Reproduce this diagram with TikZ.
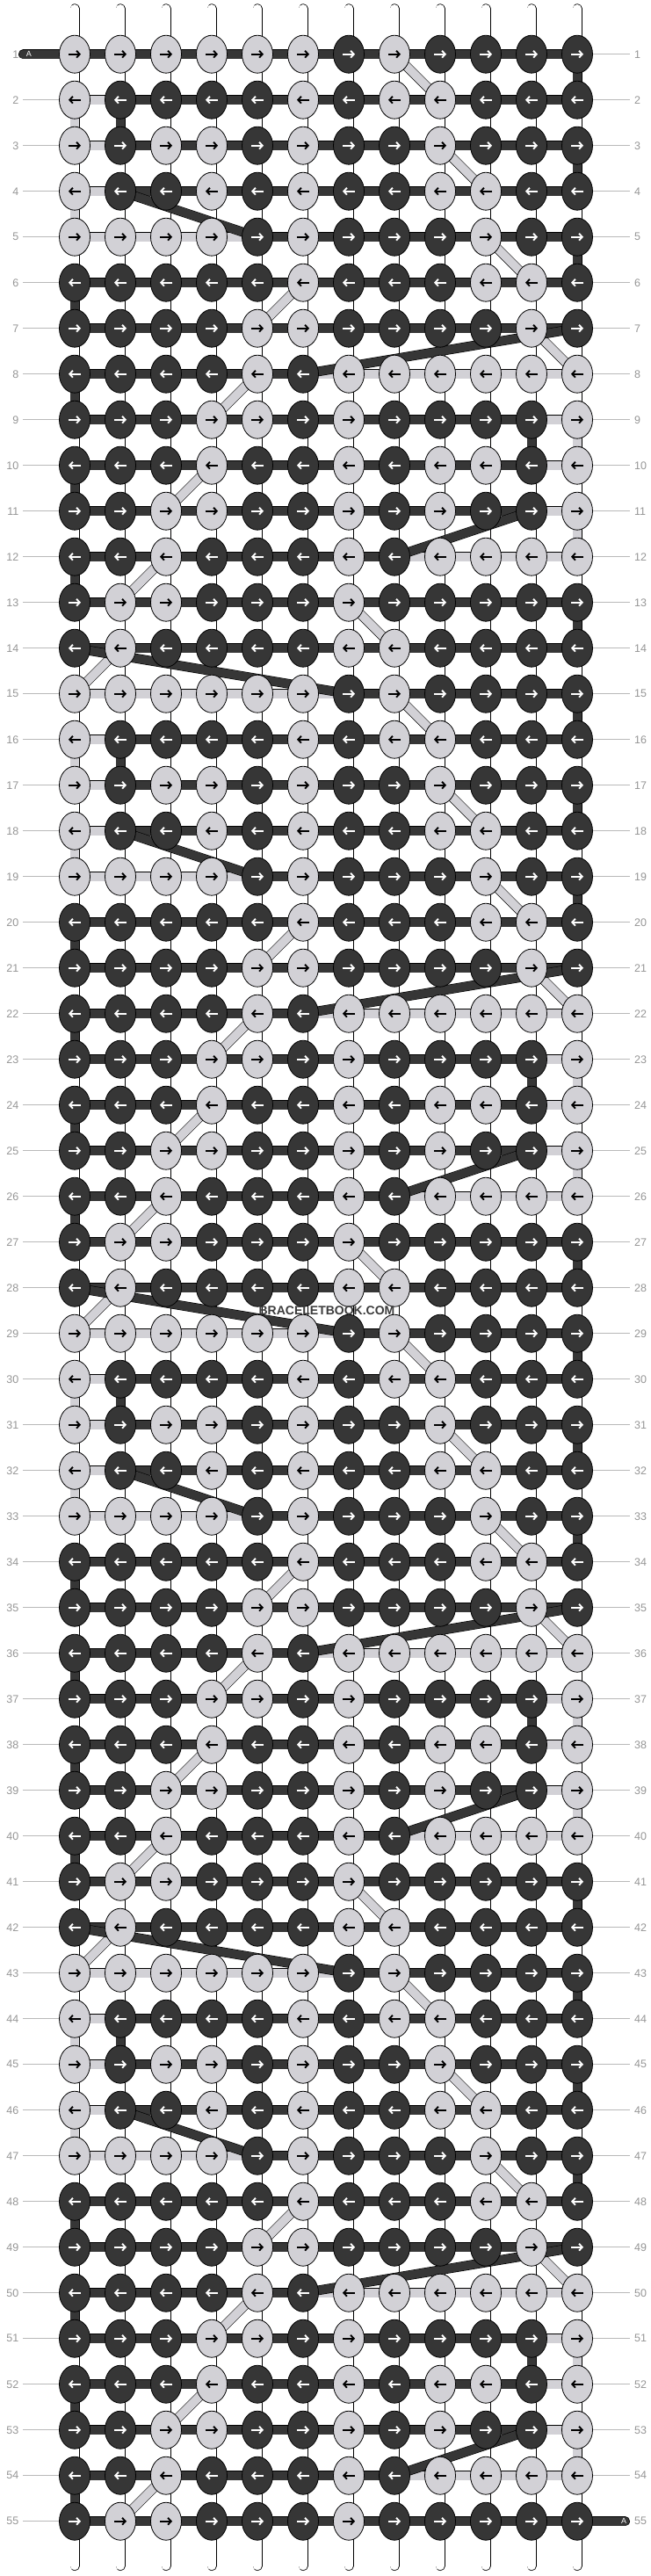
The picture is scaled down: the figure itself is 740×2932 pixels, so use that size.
\documentclass[tikz,border=0pt]{standalone}
\usepackage{fontspec}
\setmainfont{Liberation Sans}
\usetikzlibrary{arrows.meta,shapes.geometric}
\definecolor{dk}{RGB}{54,54,54}
\definecolor{lt}{RGB}{210,209,214}
\definecolor{lblc}{RGB}{150,150,150}
\definecolor{lblline}{RGB}{185,185,185}
\definecolor{wm}{RGB}{60,60,60}
\pgfdeclarelayer{paperlayer}
\pgfdeclarelayer{tubelayer}
\pgfdeclarelayer{threadlayer}
\pgfsetlayers{paperlayer,tubelayer,threadlayer,main}
% knot colours: 1 = dark, 0 = light ; 14 repeating rows x 12 columns
\def\K{{0,0,0,0,0,0,1,0,1,1,1,1,
0,1,1,1,1,0,1,0,0,1,1,1,
0,1,0,0,1,0,1,1,0,1,1,1,
0,1,1,0,1,0,1,1,0,0,1,1,
0,0,0,0,1,0,1,1,1,0,1,1,
1,1,1,1,1,0,1,1,1,0,0,1,
1,1,1,1,0,0,1,1,1,1,0,1,
1,1,1,1,0,1,0,0,0,0,0,0,
1,1,1,0,0,1,0,1,1,1,1,0,
1,1,1,0,1,1,0,1,0,0,1,0,
1,1,0,0,1,1,0,1,0,1,1,0,
1,1,0,1,1,1,0,1,0,0,0,0,
1,0,0,1,1,1,0,1,1,1,1,1,
1,0,1,1,1,1,0,0,1,1,1,1}}
% horizontal bar colours: 1 = light, 0 = dark ; 14 rows x 11 bars
\def\B{{1,1,1,1,1,1,0,0,0,0,0,
1,0,0,0,0,0,0,0,0,0,0,
1,0,0,0,0,0,0,0,0,0,0,
1,0,0,0,0,0,0,0,0,0,0,
1,1,1,1,0,0,0,0,0,0,0,
0,0,0,0,0,0,0,0,0,0,0,
0,0,0,0,0,0,0,0,0,0,0,
0,0,0,0,0,1,1,1,1,1,1,
0,0,0,0,0,0,0,0,0,0,1,
0,0,0,0,0,0,0,0,0,0,1,
0,0,0,0,0,0,0,0,0,0,1,
0,0,0,0,0,0,0,1,1,1,1,
0,0,0,0,0,0,0,0,0,0,0,
0,0,0,0,0,0,0,0,0,0,0}}
\begin{document}
\begin{tikzpicture}[x=1pt,y=-1pt,
  knot/.style={ellipse,draw=black,line width=0.8pt,minimum width=35pt,minimum height=43pt,inner sep=0pt},
  arr/.style={line width=1.9pt,-{Straight Barb[length=3.6pt,width=7.8pt]}},
  tube/.style={draw=black,line width=0.7pt,double=white,double distance=9.6pt,line cap=round},
  thr/.style={draw=black,line width=0.6pt,double distance=9.6pt},
  rowlbl/.style={text=lblc,font=\fontsize{12.5}{14}\selectfont,inner sep=0pt},
  lblln/.style={draw=lblline,line width=1pt},
  tab/.style={draw=black,line width=0.6pt,double=dk,double distance=9.8pt,line cap=round},
  tabtxt/.style={text=white,font=\fontsize{9}{10}\selectfont,inner sep=0pt},
  wmark/.style={text=wm,font=\bfseries\fontsize{14}{16}\selectfont,inner sep=0pt}
]
\useasboundingbox (0,0) rectangle (740,2932);
\begin{pgfonlayer}{paperlayer}
\fill[white] (0,0) rectangle (740,2932);
\end{pgfonlayer}
% ---------------- knots ----------------
\foreach \rr in {1,...,55}{
  \pgfmathtruncatemacro\pv{mod(\rr-1,14)}
  \pgfmathsetmacro\yv{61.7+52*(\rr-1)}
  \pgfmathtruncatemacro\oddv{mod(\rr,2)}
  \foreach \cc in {1,...,12}{
    \pgfmathsetmacro\xv{85+52*(\cc-1)}
    \pgfmathtruncatemacro\kd{\K[\pv*12+\cc-1]}
    \ifnum\kd=1 \def\fc{dk}\def\ac{white}\else \def\fc{lt}\def\ac{black}\fi
    \node[knot,fill=\fc] (k-\rr-\cc) at (\xv,\yv) {};
    \ifnum\oddv=1
      \draw[arr,draw=\ac] (\xv-7,\yv) -- (\xv+7,\yv);
    \else
      \draw[arr,draw=\ac] (\xv+7,\yv) -- (\xv-7,\yv);
    \fi
  }
  \node[rowlbl,anchor=east] (ll-\rr) at (21.5,\yv) {\rr};
  \node[rowlbl,anchor=west] (rl-\rr) at (722,\yv) {\rr};
  \ifnum\rr>1 \draw[lblln] (26,\yv) -- (k-\rr-1.west); \fi
  \ifnum\rr<55 \draw[lblln] (k-\rr-12.east) -- (717,\yv); \fi
}
% ---------------- base strings ----------------
\begin{pgfonlayer}{tubelayer}
\foreach \cc in {1,...,12}{
  \pgfmathsetmacro\xv{85+52*(\cc-1)}
  \coordinate (top-\cc) at (\xv,9.8);
  \coordinate (bot-\cc) at (\xv,2920.5);
  \draw[tube] (top-\cc) -- (bot-\cc);
}
\end{pgfonlayer}
% ---------------- working threads ----------------
\begin{pgfonlayer}{threadlayer}
% vertical colored segments
\foreach \pp/\cc/\cl in {1/12/dk,2/1/lt,2/2/dk,3/12/dk,4/1/lt,5/12/dk,6/1/dk,8/1/dk,9/11/dk,9/12/lt,10/1/dk,11/12/lt,12/1/dk,13/12/dk}{
  \foreach \kk in {0,...,3}{
    \pgfmathtruncatemacro\ra{\pp+14*\kk}
    \pgfmathtruncatemacro\rb{\ra+1}
    \ifnum\rb<56 \draw[thr,double=\cl] (k-\ra-\cc.center) -- (k-\rb-\cc.center); \fi
  }
}
% horizontal bars
\foreach \rr in {1,...,55}{
  \pgfmathtruncatemacro\pv{mod(\rr-1,14)}
  \foreach \cc in {1,...,11}{
    \pgfmathtruncatemacro\cn{\cc+1}
    \pgfmathtruncatemacro\bv{\B[\pv*11+\cc-1]}
    \ifnum\rr=1 \def\bv{0}\fi
    \ifnum\bv=1 \def\bc{lt}\else\def\bc{dk}\fi
    \draw[thr,double=\bc] (k-\rr-\cc.center) -- (k-\rr-\cn.center);
  }
}
% light diagonals
\foreach \pp/\ca/\cb in {1/8/9,3/9/10,5/10/11,6/6/5,7/11/12,8/5/4,10/4/3,12/3/2,13/7/8,14/2/1}{
  \foreach \kk in {0,...,3}{
    \pgfmathtruncatemacro\ra{\pp+14*\kk}
    \pgfmathtruncatemacro\rb{\ra+1}
    \ifnum\rb<56 \draw[thr,double=lt] (k-\ra-\ca.center) -- (k-\rb-\cb.center); \fi
  }
}
% dark diagonals
\foreach \pp/\ca/\cb in {4/2/5,7/12/6,11/11/8,14/1/7}{
  \foreach \kk in {0,...,3}{
    \pgfmathtruncatemacro\ra{\pp+14*\kk}
    \pgfmathtruncatemacro\rb{\ra+1}
    \ifnum\rb<56 \draw[thr,double=dk] (k-\ra-\ca.center) -- (k-\rb-\cb.center); \fi
  }
}
% start / end tabs
\coordinate (tabL) at (26.5,61.7);
\coordinate (tabR) at (711.5,2869.7);
\draw[tab] (tabL) -- (k-1-1.center);
\draw[tab] (k-55-12.center) -- (tabR);
\end{pgfonlayer}
\node[tabtxt] (tabLtxt) at (33,61.7) {A};
\node[tabtxt] (tabRtxt) at (710,2869.7) {A};
% watermark
\node[wmark] (wmk) at (372,1492) {BRACELETBOOK.COM};
\end{tikzpicture}
\end{document}
